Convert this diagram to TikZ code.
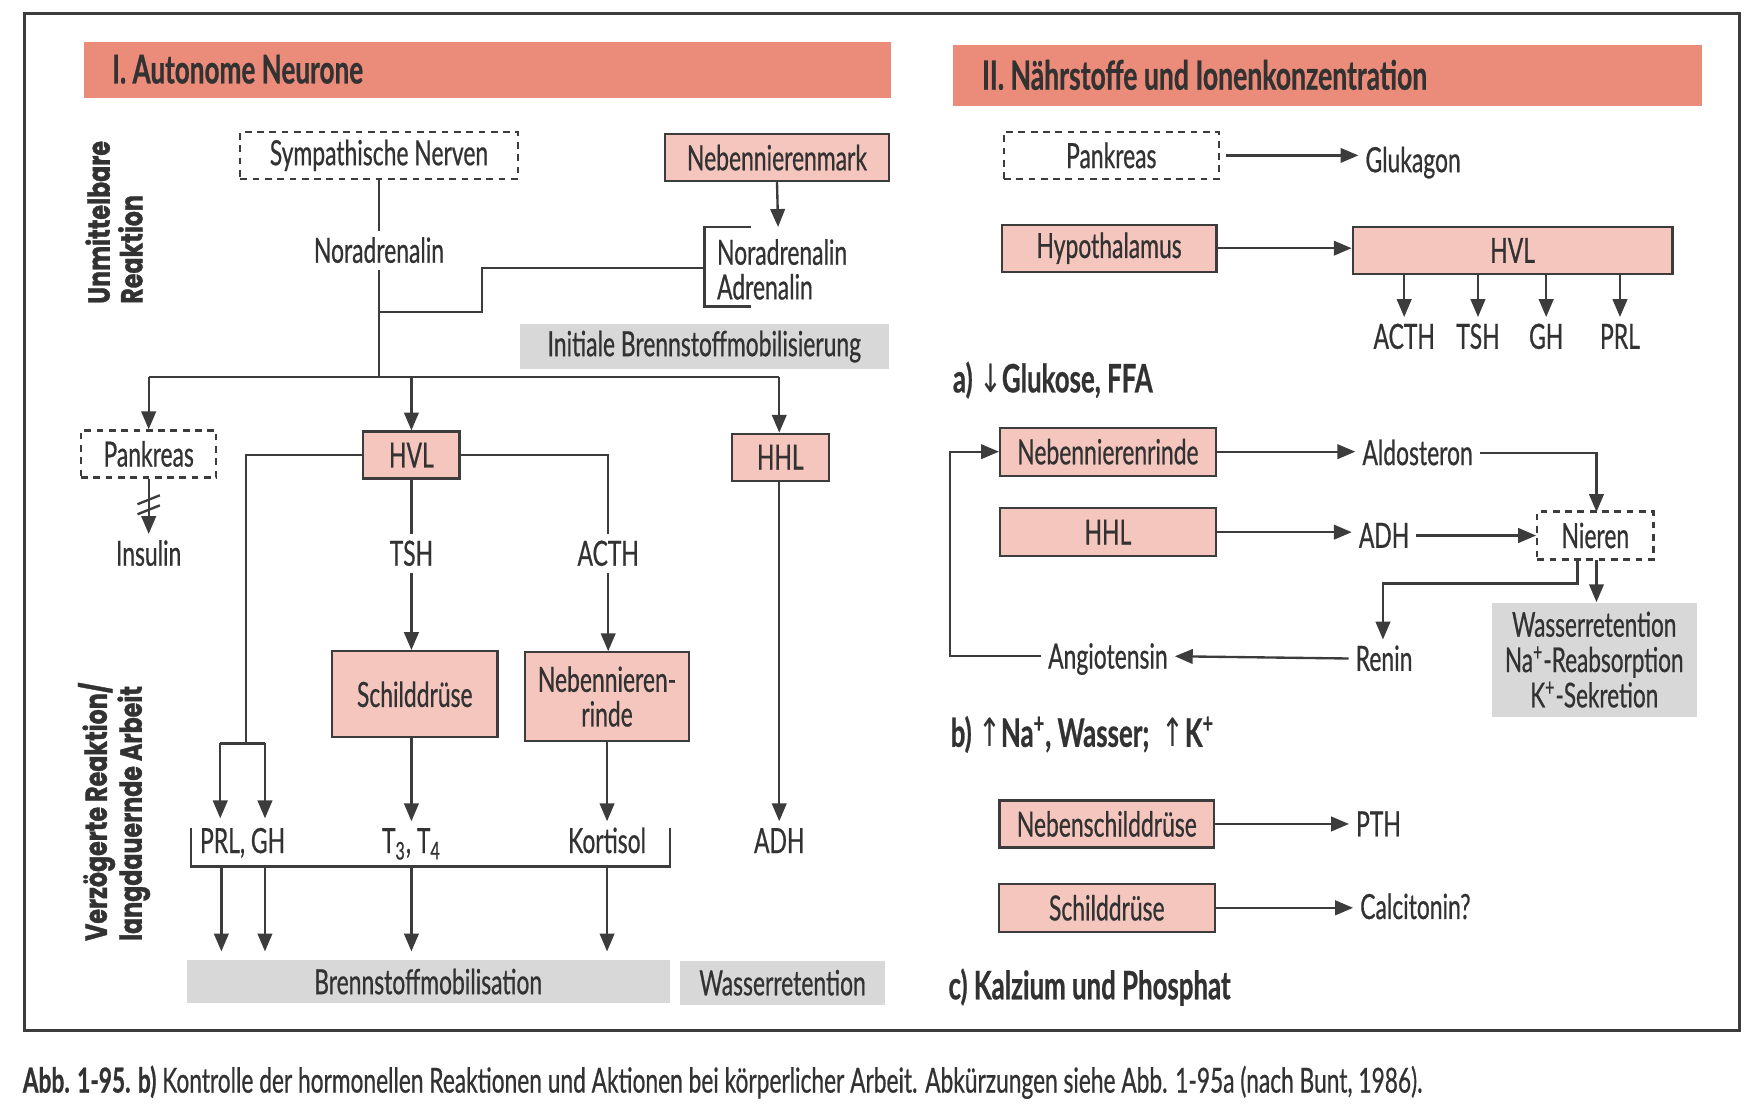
\documentclass[tikz,border=0pt]{standalone}
\usepackage{fontspec}
\setmainfont{Lato}[FakeStretch=0.66,FakeBold=0.6]
\newfontfamily\widefont{Poppins}[FakeStretch=0.78,BoldFeatures={FakeBold=1.2}]
\newfontfamily\symfont{DejaVu Sans}[FakeStretch=0.7]
\usetikzlibrary{arrows.meta}
\definecolor{salmon}{RGB}{235,140,122}
\definecolor{pinkc}{RGB}{245,198,190}
\definecolor{grayc}{RGB}{216,216,216}
\definecolor{lnc}{RGB}{60,60,60}
\definecolor{txt}{RGB}{50,50,50}
\newcommand\fsz{\fontsize{15.5}{15.5}\selectfont}
\newcommand\hdsz{\fontsize{17.7}{18}\selectfont\bfseries}
\newcommand\hdszb{\fontsize{18}{18}\selectfont\bfseries}
\newcommand\absz{\fontsize{17.5}{18}\selectfont\bfseries}
\newcommand\vsz{\widefont\bfseries\fontsize{13.6}{14.6}\selectfont}
\begin{document}
\begin{tikzpicture}[x=0.5pt,y=-0.5pt,font=\fsz,text=txt,
  pbox/.style={draw=lnc,fill=pinkc,line width=1pt,inner sep=0pt,align=center},
  dbox/.style={draw=lnc,dash pattern=on 3pt off 2.5pt,line width=1pt,inner sep=0pt},
  gbox/.style={fill=grayc,inner sep=0pt,align=center},
  lab/.style={inner sep=3pt,text height=11pt,text depth=0pt},
  ln/.style={draw=lnc,line width=1.05pt},
  arr/.style={draw=lnc,line width=1.05pt,-{Triangle[length=8pt,width=6.5pt]}},
  hd/.style={anchor=west,inner sep=0pt}]
\useasboundingbox (0,0) rectangle (1568,996);
% frame
\draw[draw=lnc,line width=1.5pt] (22,12) rectangle (1556,922);
% headers
\fill[salmon] (75,38) rectangle (797,88);
\node[hd,font=\hdsz] (h1) at (100,62) {I. Autonome Neurone};
\fill[salmon] (852,40) rectangle (1522,95);
\node[hd,font=\hdszb] (h2) at (878,67) {II. Nährstoffe und Ionenkonzentration};
% vertical labels
\node[rotate=90,anchor=west,align=left,font=\vsz,inner sep=0pt] (v1) at (102,272) {Unmittelbare\\Reaktion};
\node[rotate=90,anchor=west,align=left,font=\vsz,inner sep=0pt] (v2) at (102,842) {Verzögerte Reaktion/\\langdauernde Arbeit};
% ---------- left part ----------
\node[dbox,minimum width=124pt,minimum height=21pt] (symp) at (339,139) {Sympathische Nerven};
\node[pbox,minimum width=100pt,minimum height=21pt] (nnm) at (695,141) {Nebennierenmark};
\node[lab] (nor1) at (339,224) {Noradrenalin};
\node[anchor=west,align=left,inner sep=0pt,font=\fontsize{15.5}{15.5}\selectfont] (nor2) at (641,241) {Noradrenalin\\Adrenalin};
\coordinate (ntip) at (696,203);
\coordinate (bt) at (672,203);
\coordinate (btl) at (630,203);
\coordinate (bbl) at (630,274);
\coordinate (bb) at (672,274);
\coordinate (bm) at (630,240);
\coordinate (j1) at (431,240);
\coordinate (j2) at (431,279);
\coordinate (j3) at (339,279);
\draw[arr] (nnm.south) -- (ntip);
\draw[ln] (bt) -- (btl) -- (bbl) -- (bb);
\draw[ln] (bm) -- (j1) -- (j2) -- (j3);
\draw[ln] (symp.south) -- (nor1.north);
\coordinate (d1) at (133,337);
\coordinate (d2) at (368,337);
\coordinate (d3) at (697,337);
\coordinate (d0) at (339,337);
\draw[ln] (nor1.south) -- (d0);
\draw[ln] (d1) -- (d3);
\node[gbox,minimum width=165pt,minimum height=20pt] (init) at (630,310) {Initiale Brennstoffmobilisierung};
\node[dbox,minimum width=60.5pt,minimum height=21pt] (pank) at (133,406) {Pankreas};
\node[pbox,minimum width=43pt,minimum height=21pt] (hvl) at (368,407) {HVL};
\node[pbox,minimum width=43.5pt,minimum height=21pt] (hhl) at (698,409) {HHL};
\draw[arr] (d1) -- (pank.north);
\draw[arr] (d2) -- (hvl.north);
\draw[arr] (d3) -- (hhl.north -| d3);
\node[lab] (insulin) at (133,495) {Insulin};
\draw[arr] (pank.south) -- (insulin.north);
\draw[ln] (123,451) -- (143,443) (123,460) -- (143,452);
\node[lab] (tsh) at (368,495) {TSH};
\node[lab] (acth) at (544,495) {ACTH};
\node[pbox,minimum width=74pt,minimum height=38.5pt] (schild) at (371,621) {Schilddrüse};
\node[pbox,minimum width=73.5pt,minimum height=39.5pt,font=\fontsize{15.5}{15.5}\selectfont] (nnr) at (543,623) {Nebennieren-\\rinde};
\draw[ln] (hvl.east) -| (acth.north);
\draw[arr] (acth.south) -- (nnr.north -| acth.south);
\draw[ln] (hvl.south) -- (tsh.north);
\draw[arr] (tsh.south) -- (schild.north -| tsh.south);
\coordinate (pg) at (220,665);
\coordinate (pgl) at (197,665);
\coordinate (pgr) at (237,665);
\coordinate (pgtl) at (197,732);
\coordinate (pgtr) at (237,732);
\draw[ln] (hvl.west) -| (pg);
\draw[ln] (pgl) -- (pgr);
\draw[arr] (pgl) -- (pgtl);
\draw[arr] (pgr) -- (pgtr);
\node[lab] (prlgh) at (217,752) {PRL, GH};
\node[lab] (t34) at (368,752) {T\textsubscript{3}, T\textsubscript{4}};
\node[lab] (kort) at (543,752) {Kortisol};
\node[lab] (adh1) at (697,752) {ADH};
\draw[arr] (hhl.south -| adh1.north) -- (adh1.north);
\draw[arr] (schild.south -| t34.north) -- (t34.north);
\draw[arr] (nnr.south) -- (kort.north);
\coordinate (ul) at (171,741);
\coordinate (ulb) at (171,775);
\coordinate (urb) at (599,775);
\coordinate (ur) at (599,741);
\draw[ln] (ul) -- (ulb) -- (urb) -- (ur);
\node[gbox,minimum width=216pt,minimum height=19.5pt] (brenn) at (383,878) {Brennstoffmobilisation};
\node[gbox,minimum width=92pt,minimum height=19.5pt] (wass1) at (700,879) {Wasserretention};
\foreach \xx/\nm in {198/a,237/b,368/c,543/d}{
  \coordinate (s\nm) at (\xx,775);
  \coordinate (e\nm) at (\xx,851);
  \draw[arr] (s\nm) -- (e\nm);
}
% ---------- right part ----------
\node[dbox,minimum width=96pt,minimum height=21pt] (pank2) at (994,139) {Pankreas};
\node[lab] (gluk) at (1264,143) {Glukagon};
\draw[arr,shorten <=3pt] (pank2.east) -- (gluk.west |- pank2.east);
\node[pbox,minimum width=96pt,minimum height=21pt] (hypo) at (992,222) {Hypothalamus};
\node[pbox,minimum width=143pt,minimum height=21pt] (hvl2) at (1353,224) {HVL};
\draw[arr] (hypo.east) -- (hvl2.west |- hypo.east);
\foreach \xx/\tt/\nm in {1256/ACTH/a,1322/TSH/b,1383/GH/c,1449/PRL/d}{
  \node[lab] (r\nm) at (\xx,301) {\tt};
  \draw[arr] (hvl2.south -| r\nm.north) -- (r\nm.north);
}
\node[anchor=west,font=\absz,inner sep=0pt] (la) at (852,340) {a) {\symfont\mdseries↓}Glukose, FFA};
\node[pbox,minimum width=96.5pt,minimum height=21.5pt] (nnr2) at (991,404) {Nebennierenrinde};
\node[lab] (aldo) at (1268,405) {Aldosteron};
\node[pbox,minimum width=96.5pt,minimum height=21.5pt] (hhl2) at (991,476) {HHL};
\node[lab] (adh2) at (1238,479) {ADH};
\node[dbox,minimum width=52pt,minimum height=21.5pt] (nier) at (1427,479) {Nieren};
\draw[arr] (nnr2.east) -- (aldo.west |- nnr2.east);
\draw[arr] (hhl2.east) -- (adh2.west |- hhl2.east);
\draw[arr] (adh2.east) -- (nier.west |- adh2.east);
\coordinate (nt) at (1428,458);
\draw[arr] (aldo.east) -| (nt);
\node[gbox,minimum width=91.5pt,minimum height=51pt,font=\fontsize{15.3}{15.8}\selectfont] (wret) at (1426,590) {Wasserretention\\Na\textsuperscript{+}-Reabsorption\\K\textsuperscript{+}-Sekretion};
\node[lab] (renin) at (1238,589) {Renin};
\node[lab] (angio) at (991,587) {Angiotensin};
\coordinate (n1) at (1411,501);
\coordinate (n2) at (1411,522);
\coordinate (n3) at (1237,522);
\coordinate (n4) at (1237,572);
\draw[arr] (n1) -- (n2) -- (n3) -- (n4);
\coordinate (w1) at (1428,501);
\draw[arr] (w1) -- (wret.north -| w1);
\draw[arr] (renin.west) -- (angio.east);
\coordinate (f1) at (850,587);
\coordinate (f2) at (850,404);
\draw[arr] (angio.west) -- (f1) -- (f2) -- (nnr2.west);
\node[anchor=west,font=\absz,inner sep=0pt] (lb) at (850,657) {b) {\symfont\mdseries↑}Na\textsuperscript{+}, Wasser;\ \ {\symfont\mdseries↑}K\textsuperscript{+}};
\node[pbox,minimum width=96pt,minimum height=21pt] (nsd) at (990,737) {Nebenschilddrüse};
\node[lab] (pth) at (1233,737) {PTH};
\draw[arr] (nsd.east) -- (pth.west |- nsd.east);
\node[pbox,minimum width=96.5pt,minimum height=21.5pt] (schild2) at (990,812) {Schilddrüse};
\node[lab] (calc) at (1266,811) {Calcitonin?};
\draw[arr] (schild2.east) -- (calc.west |- schild2.east);
\node[anchor=west,font=\absz,inner sep=0pt] (lc) at (848,883) {c) Kalzium und Phosphat};
% caption
\node[anchor=west,inner sep=0pt,font=\fontsize{15.4}{15.4}\selectfont] (cap) at (20,968) {\textbf{Abb. 1-95. b)} Kontrolle der hormonellen Reaktionen und Aktionen bei körperlicher Arbeit. Abkürzungen siehe Abb. 1-95a (nach Bunt, 1986).};
\end{tikzpicture}
\end{document}
